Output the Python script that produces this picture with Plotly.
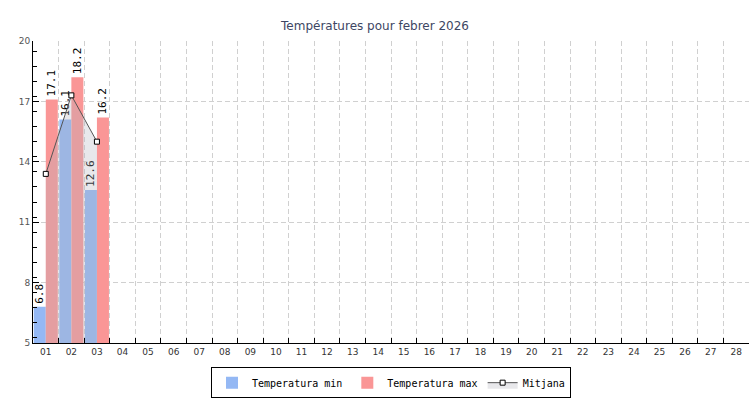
import plotly.graph_objects as go

days = [f"{d:02d}" for d in range(1, 29)]
temp_min = [6.8, 16.1, 12.6]
temp_max = [17.1, 18.2, 16.2]
mitjana = [13.4, 17.3, 15.0]
min_days = days[:3]

fig = go.Figure()
fig.add_trace(go.Bar(
    x=min_days, y=temp_min, name="Temperatura min",
    marker=dict(color="#94b8f4", line=dict(width=0)),
    text=[f"{v:.1f}" for v in temp_min], textposition="outside", textangle=-90,
    constraintext="none",
    textfont=dict(family="DejaVu Sans Mono", size=11, color="#000"),
    cliponaxis=False,
))
fig.add_trace(go.Bar(
    x=min_days, y=temp_max, name="Temperatura max",
    marker=dict(color="#fa9696", line=dict(width=0)),
    text=[f"{v:.1f}" for v in temp_max], textposition="outside", textangle=-90,
    constraintext="none",
    textfont=dict(family="DejaVu Sans Mono", size=11, color="#000"),
    cliponaxis=False,
))
fig.add_trace(go.Scatter(
    x=min_days, y=mitjana, name="Mitjana", mode="lines+markers",
    line=dict(color="#555555", width=1),
    marker=dict(symbol="square", size=5, color="white", line=dict(color="#000", width=1)),
    fill="tozeroy", fillcolor="rgba(180,180,190,0.3)",
))

fig.update_layout(
    width=750, height=400,
    margin=dict(l=33, r=1, t=41, b=57, autoexpand=False),
    paper_bgcolor="white", plot_bgcolor="white",
    barmode="group", bargap=0.06, bargroupgap=0,
    title=dict(text="Températures pour febrer 2026", x=0.5, xanchor="center",
               y=1 - 26/400, yanchor="middle",
               font=dict(family="DejaVu Sans", size=12, color="#3d4663")),
    legend=dict(orientation="h", x=0.5, xanchor="center", y=-0.08, yanchor="top",
                bordercolor="#000", borderwidth=1, itemwidth=30,
                font=dict(family="DejaVu Sans Mono", size=10, color="#000")),
    showlegend=True,
)
fig.update_xaxes(
    type="category", categoryorder="array", categoryarray=days,
    range=[-0.5, 27.5], tickson="boundaries", automargin=False,
    showline=True, linecolor="#000", linewidth=1,
    ticks="inside", ticklen=5, tickcolor="#000",
    showgrid=True, gridcolor="#d0d0d0", griddash="5px,3px", gridwidth=1,
    tickfont=dict(family="DejaVu Sans", size=9, color="#333"),
    zeroline=False,
)
fig.update_yaxes(
    range=[5, 20], tick0=5, dtick=3, automargin=False,
    showline=True, linecolor="#000", linewidth=1,
    ticks="inside", ticklen=6, tickcolor="#000",
    minor=dict(dtick=0.75, ticks="inside", ticklen=4, tickcolor="#000", showgrid=False),
    showgrid=True, gridcolor="#d0d0d0", griddash="5px,3px", gridwidth=1,
    tickfont=dict(family="DejaVu Sans", size=9, color="#555"),
    zeroline=False,
)
fig.write_html("out.html", config={"displayModeBar": False},
               post_script="document.body.style.margin='0';")
